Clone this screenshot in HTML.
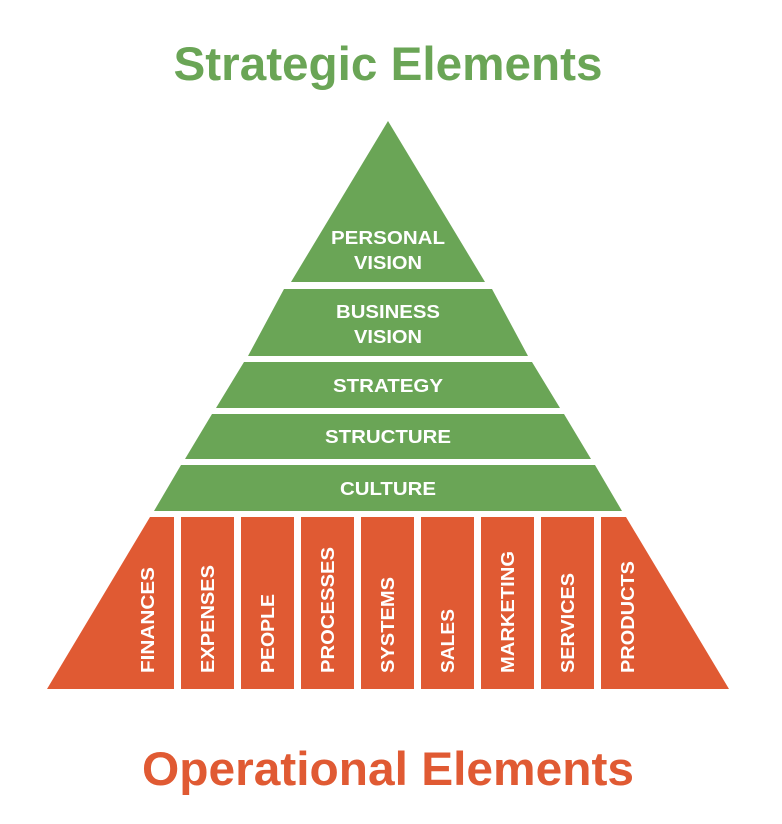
<!DOCTYPE html>
<html><head><meta charset="utf-8"><style>
html,body{margin:0;padding:0;background:#fff;}
svg{display:block;}
text{font-family:"Liberation Sans",Arial,sans-serif;font-weight:bold;}
</style></head><body>
<svg width="782" height="824" viewBox="0 0 782 824">
<text x="388" y="80" text-anchor="middle" font-size="47" fill="#6aa556" textLength="429" lengthAdjust="spacingAndGlyphs">Strategic Elements</text>
<g fill="#6aa556">
<polygon points="388,121 485,282 291,282"/>
<polygon points="284,289 492,289 528,356 248,356"/>
<polygon points="244,362 532,362 560,408 216,408"/>
<polygon points="212,414 564,414 591,459 185,459"/>
<polygon points="181,465 595,465 622,511 154,511"/>
</g>
<g fill="#fff" font-size="18" text-anchor="middle">
<text x="388" y="244" textLength="114" lengthAdjust="spacingAndGlyphs">PERSONAL</text>
<text x="388" y="269" textLength="68" lengthAdjust="spacingAndGlyphs">VISION</text>
<text x="388" y="318" textLength="104" lengthAdjust="spacingAndGlyphs">BUSINESS</text>
<text x="388" y="343" textLength="68" lengthAdjust="spacingAndGlyphs">VISION</text>
<text x="388" y="392" textLength="110" lengthAdjust="spacingAndGlyphs">STRATEGY</text>
<text x="388" y="443" textLength="126" lengthAdjust="spacingAndGlyphs">STRUCTURE</text>
<text x="388" y="495" textLength="96" lengthAdjust="spacingAndGlyphs">CULTURE</text>
</g>
<g fill="#e05a33">
<polygon points="150,517 174,517 174,689 47,689"/>
<rect x="181" y="517" width="53" height="172"/>
<rect x="241" y="517" width="53" height="172"/>
<rect x="301" y="517" width="53" height="172"/>
<rect x="361" y="517" width="53" height="172"/>
<rect x="421" y="517" width="53" height="172"/>
<rect x="481" y="517" width="53" height="172"/>
<rect x="541" y="517" width="53" height="172"/>
<polygon points="601,517 626,517 729,689 601,689"/>
</g>
<g fill="#fff" font-size="18">
<text transform="translate(154,673) rotate(-90)" textLength="106" lengthAdjust="spacingAndGlyphs">FINANCES</text>
<text transform="translate(214,673) rotate(-90)" textLength="108" lengthAdjust="spacingAndGlyphs">EXPENSES</text>
<text transform="translate(274,673) rotate(-90)" textLength="79" lengthAdjust="spacingAndGlyphs">PEOPLE</text>
<text transform="translate(334,673) rotate(-90)" textLength="126" lengthAdjust="spacingAndGlyphs">PROCESSES</text>
<text transform="translate(394,673) rotate(-90)" textLength="96" lengthAdjust="spacingAndGlyphs">SYSTEMS</text>
<text transform="translate(454,673) rotate(-90)" textLength="64" lengthAdjust="spacingAndGlyphs">SALES</text>
<text transform="translate(514,673) rotate(-90)" textLength="122" lengthAdjust="spacingAndGlyphs">MARKETING</text>
<text transform="translate(574,673) rotate(-90)" textLength="100" lengthAdjust="spacingAndGlyphs">SERVICES</text>
<text transform="translate(634,673) rotate(-90)" textLength="112" lengthAdjust="spacingAndGlyphs">PRODUCTS</text>
</g>
<text x="388" y="785" text-anchor="middle" font-size="47" fill="#e05a33" textLength="492" lengthAdjust="spacingAndGlyphs">Operational Elements</text>
</svg>
</body></html>
